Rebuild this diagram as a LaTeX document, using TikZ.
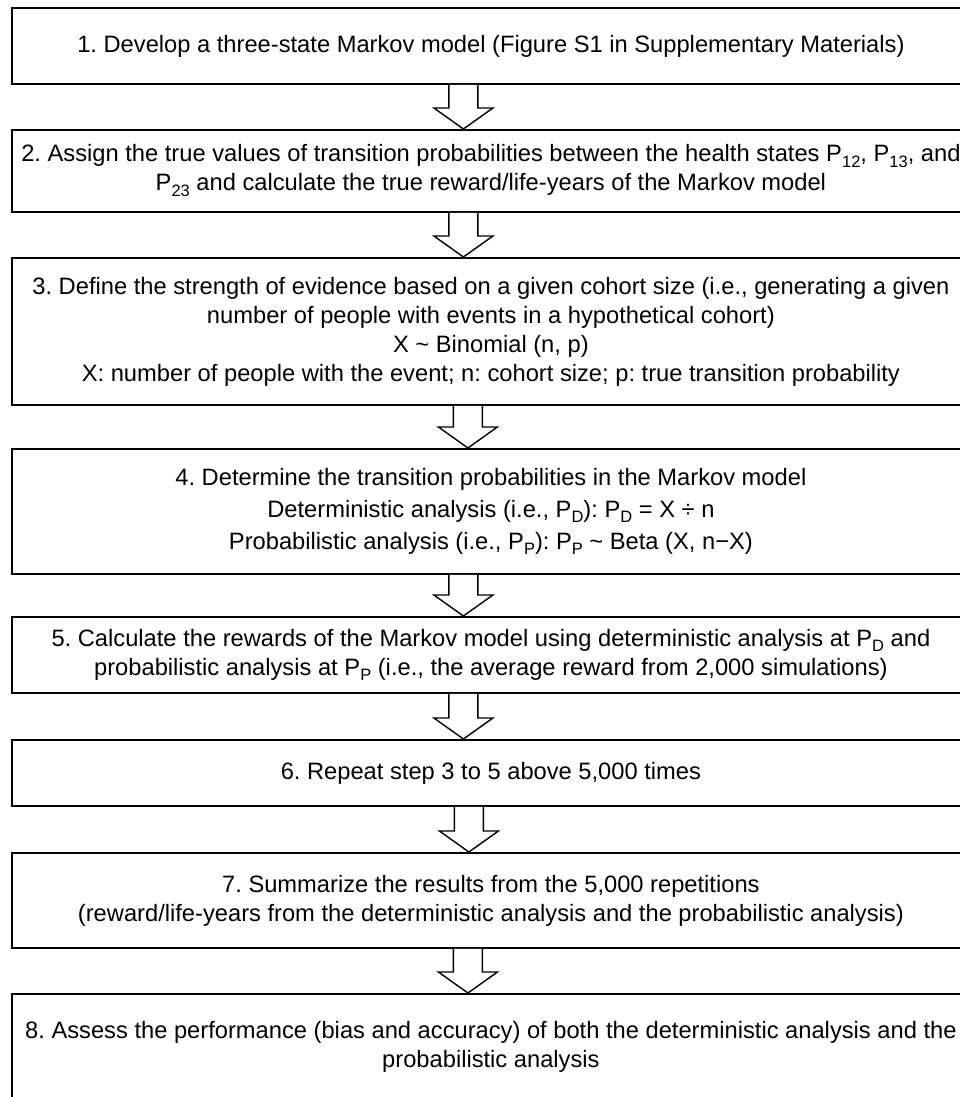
\documentclass[tikz,border=0pt]{standalone}
\usepackage{fontspec}
\setmainfont{Liberation Sans}
\usetikzlibrary{calc}
\newcommand{\myidx}[1]{\raisebox{-0.25em}{\fontsize{16.5}{16.5}\selectfont #1}}
\newcommand{\mytilde}{{\char"7E}}
\newcommand{\blkarrow}[3]{%
  \draw[blockarr] let \p1=($(#1.south)+(#3,0)$), \p2=($(#2.north)+(#3,0)$) in
    (\x1-14.5pt,\y1) -- (\x1-14.5pt,\y2+21pt) -- (\x1-29.5pt,\y2+21pt) -- (\x1,\y2)
    -- (\x1+29.5pt,\y2+21pt) -- (\x1+14.5pt,\y2+21pt) -- (\x1+14.5pt,\y1);}
\begin{document}
\frenchspacing
\begin{tikzpicture}[x=1pt,y=-1pt,
  stepbox/.style={draw=black, line width=1.8pt, fill=white, minimum width=958pt,
    anchor=north west, inner sep=0pt, align=center,
    font=\fontsize{23.7}{29}\selectfont\frenchspacing},
  blockarr/.style={draw=black, line width=1.4pt, fill=white, line join=miter}]
\useasboundingbox (0,0) rectangle (960,1097);
\fill[white] (0,0) rectangle (960,1097);
\clip (0,0) rectangle (960,1097);

\node[stepbox, minimum height=76pt] (b1) at (11,7)
  {1. Develop a three-state Markov model (Figure S1 in Supplementary Materials)};
\node[stepbox, minimum height=82pt] (b2) at (11,129)
  {2. Assign the true values of transition probabilities between the health states P\myidx{12}, P\myidx{13}, and\\
   P\myidx{23} and calculate the true reward/life-years of the Markov model};
\node[stepbox, minimum height=147pt] (b3) at (11,257)
  {3. Define the strength of evidence based on a given cohort size (i.e., generating a given\\
   number of people with events in a hypothetical cohort)\\
   X \mytilde\ Binomial (n, p)\\
   X: number of people with the event; n: cohort size; p: true transition probability};
\node[stepbox, minimum height=125pt] (b4) at (11,448)
  {4. Determine the transition probabilities in the Markov model\\[3pt]
   Deterministic analysis (i.e., P\myidx{D}): P\myidx{D} = X ÷ n\\[3pt]
   Probabilistic analysis (i.e., P\myidx{P}): P\myidx{P} \mytilde\ Beta (X, n−X)};
\node[stepbox, minimum height=76pt] (b5) at (11,616)
  {5. Calculate the rewards of the Markov model using deterministic analysis at P\myidx{D} and\\
   probabilistic analysis at P\myidx{P} (i.e., the average reward from 2,000 simulations)};
\node[stepbox, minimum height=66pt] (b6) at (11,739)
  {6. Repeat step 3 to 5 above 5,000 times};
\node[stepbox, minimum height=95pt] (b7) at (11,852)
  {7. Summarize the results from the 5,000 repetitions\\
   (reward/life-years from the deterministic analysis and the probabilistic analysis)};
\node[stepbox, minimum height=106pt] (b8) at (11,993)
  {8. Assess the performance (bias and accuracy) of both the deterministic analysis and the\\
   probabilistic analysis};

\blkarrow{b1}{b2}{-27.5}
\blkarrow{b2}{b3}{-27.5}
\blkarrow{b3}{b4}{-23}
\blkarrow{b4}{b5}{-27.5}
\blkarrow{b5}{b6}{-27.5}
\blkarrow{b6}{b7}{-22}
\blkarrow{b7}{b8}{-23}
\end{tikzpicture}
\end{document}
